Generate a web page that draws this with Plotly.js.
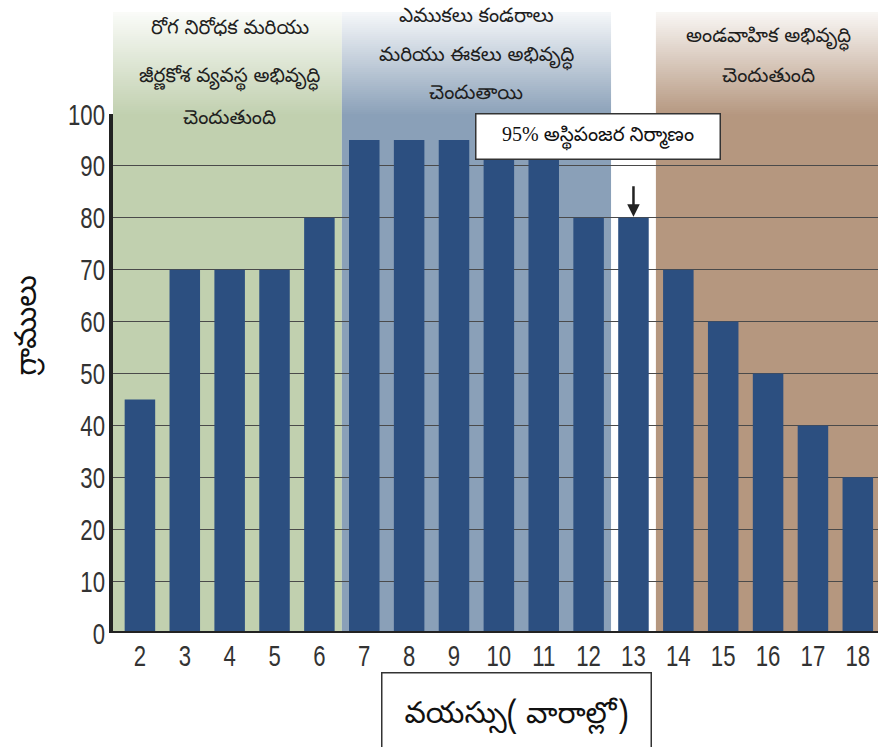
<!DOCTYPE html>
<html><head><meta charset="utf-8">
<script src="https://cdn.plot.ly/plotly-3.0.1.min.js"></script>
<style>html,body{margin:0;padding:0;background:#fff}</style>
</head><body><div id="chart" style="width:878px;height:747px"></div>
<script>
// ---- data ----
const weeks = [2,3,4,5,6,7,8,9,10,11,12,13,14,15,16,17,18];
const grams = [45,70,70,70,80,95,95,95,95,95,80,80,70,60,50,40,30];
const yTickVals = [0,10,20,30,40,50,60,70,80,90,100];
const phaseStart = [1.4, 6.5, 13.5];
const phaseEnd = [6.5, 12.5, 18.45];
const phaseColors = ['#c1d0af', '#8aa0b8', '#b5977f'];
const phaseCenter = [4.0, 9.5, 16.0];
const phaseLines = [
  ['రోగ నిరోధక మరియు', 'జీర్ణకోశ వ్యవస్థ అభివృద్ధి', 'చెందుతుంది'],
  ['ఎముకలు కండరాలు', 'మరియు ఈకలు అభివృద్ధి', 'చెందుతాయి'],
  ['అండవాహిక అభివృద్ధి', 'చెందుతుంది']
];
const phaseLineY = [[30,78,120],[18,57,96],[38,78]]; // pixel rows
const skeletonNote = '95% అస్థిపంజర నిర్మాణం';
const skeletonWeek = 13;
const xTitle = 'వయస్సు( వారాల్లో)';
const yTitle = 'గ్రాములు';

// ---- layout helpers ----
const H = 747, plotTop = 114, plotBottom = 633, plotH = plotBottom - plotTop;
const py = p => (plotBottom - p) / plotH;
const px = p => (p - 113) / 765;

const shapes = [];
for (let i = 0; i < 3; i++) {
  shapes.push({type:'rect', xref:'x', yref:'paper', x0:phaseStart[i], x1:phaseEnd[i],
    y0:0, y1:py(12), fillcolor:phaseColors[i], line:{width:0}, layer:'below'});
}
const N = 52, gTop = 12, gBot = 116;
for (let i = 0; i < N; i++) {
  const a = gTop + (gBot - gTop) * i / N, b = gTop + (gBot - gTop) * (i + 1) / N;
  shapes.push({type:'rect', xref:'x', yref:'paper', x0:1.4, x1:18.45,
    y0:py(b), y1:py(a), fillcolor:'#ffffff', opacity:0.92 * (1 - (i + 0.5) / N),
    line:{width:0}, layer:'below'});
}
shapes.push({type:'line', xref:'paper', yref:'y', x0:-0.003, x1:1, y0:0, y1:0,
  line:{color:'#222222', width:4}, layer:'above'});

const telFont = 'Noto Sans Telugu, Noto Sans, DejaVu Sans, sans-serif';
const annotations = [];
phaseLines.forEach((lines, i) => lines.forEach((t, j) => {
  annotations.push({text:t, xref:'x', yref:'paper', x:phaseCenter[i], y:py(phaseLineY[i][j]),
    xanchor:'center', yanchor:'middle', showarrow:false,
    font:{family:telFont, size:20, color:'#1e1e1e'}});
}));
annotations.push({text:skeletonNote, xref:'paper', yref:'paper', x:px(598), y:py(137),
  xanchor:'center', yanchor:'middle', showarrow:false, width:243, height:44,
  bgcolor:'#ffffff', bordercolor:'#333333', borderwidth:1.5, borderpad:0,
  font:{family:'Liberation Serif, ' + telFont, size:20, color:'#111'}});
annotations.push({text:'', x:skeletonWeek, y:grams[weeks.indexOf(skeletonWeek)], xref:'x', yref:'y',
  showarrow:true, ax:0, ay:-33, arrowhead:2, arrowsize:1, arrowwidth:2.5,
  arrowcolor:'#222', standoff:1});
annotations.push({text:xTitle, xref:'paper', yref:'paper', x:px(516), y:py(672),
  xanchor:'center', yanchor:'top', showarrow:false, width:268, height:86,
  bgcolor:'#ffffff', bordercolor:'#333', borderwidth:1.5, borderpad:0,
  font:{family:telFont, size:30, color:'#111'}});
annotations.push({text:yTitle, xref:'paper', yref:'paper', x:px(30), y:py(326),
  xanchor:'center', yanchor:'middle', showarrow:false, textangle:-90,
  font:{family:telFont, size:30, color:'#111'}});

const tickFont = {family:'Liberation Sans, Arial, sans-serif', size:30, color:'#333333'};

Plotly.newPlot('chart', [{
  type:'bar', x:weeks, y:grams, marker:{color:'#2c4f80', line:{width:0}},
  hoverinfo:'x+y'
}], {
  width:878, height:747,
  margin:{l:113, r:0, t:plotTop, b:H - plotBottom, pad:0},
  paper_bgcolor:'#ffffff', plot_bgcolor:'rgba(0,0,0,0)',
  bargap:0.32, showlegend:false,
  xaxis:{range:[1.4, 18.45], tickvals:weeks, ticktext:weeks.map(String), showgrid:false,
    zeroline:false, showline:false, ticks:'', ticklabelstandoff:2,
    tickfont:tickFont, fixedrange:true},
  yaxis:{range:[0, 100], tickvals:yTickVals, showgrid:true, gridcolor:'#4a4a4a', gridwidth:1,
    zeroline:false, showline:true, linecolor:'#222222', linewidth:4, mirror:false,
    ticks:'outside', ticklen:4, tickcolor:'rgba(0,0,0,0)', tickfont:tickFont, fixedrange:true},
  shapes:shapes,
  annotations:annotations
}, {staticPlot:true, displayModeBar:false}).then(gd => {
  // condense tick labels horizontally (reference uses a condensed face)
  gd.querySelectorAll('.xtick text, .ytick text').forEach(t => {
    const w = t.getComputedTextLength();
    t.setAttribute('textLength', (w * 0.74).toFixed(1));
    t.setAttribute('lengthAdjust', 'spacingAndGlyphs');
    if (t.closest('.ytick')) t.setAttribute('dx', '6');
  });
});
</script></body></html>
